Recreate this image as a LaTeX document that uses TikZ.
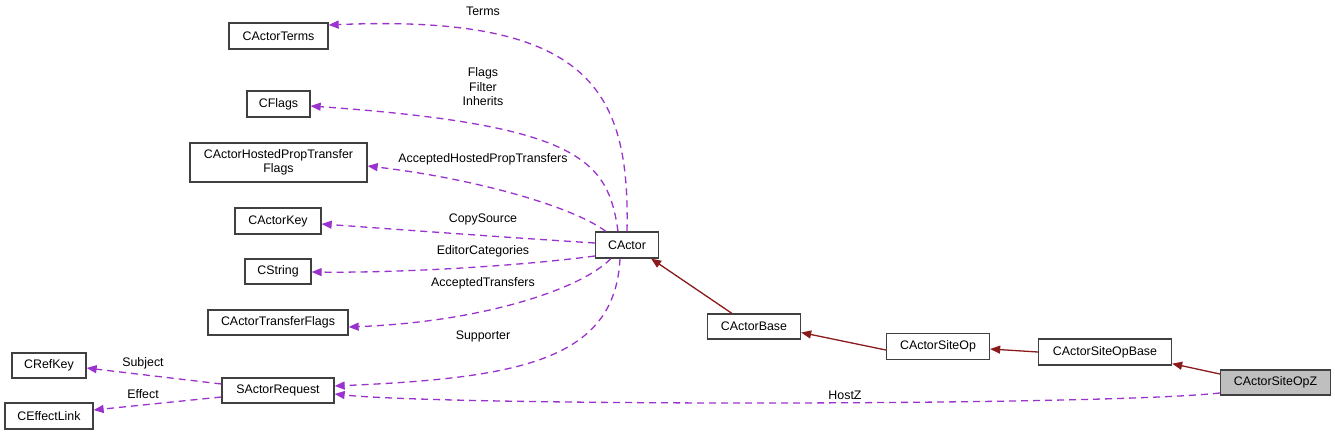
\documentclass[tikz,border=0pt]{standalone}
\usepackage{fontspec}
\setmainfont{Liberation Sans}
\usetikzlibrary{arrows.meta,calc}
\definecolor{edgepurple}{HTML}{9A32CD}
\definecolor{edgered}{HTML}{8B1A1A}
\definecolor{boxline}{HTML}{404040}
\definecolor{boxgrey}{HTML}{BFBFBF}
\begin{document}
\begin{tikzpicture}[x=1pt,y=-1pt,
  font=\fontsize{12.4}{14.5}\selectfont,
  cls/.style={draw=boxline,line width=1.3pt,fill=white,inner sep=0pt,align=center},
  rel/.style={draw=edgepurple,line width=1.3pt,dash pattern=on 7pt off 5pt,-{Triangle[length=10pt,width=8pt,fill=edgepurple]}},
  inh/.style={draw=edgered,line width=1.3pt,-{Triangle[length=10pt,width=8pt,fill=edgered]}},
  lbl/.style={inner sep=0pt,align=center}]
\useasboundingbox[fill=white] (0,0) rectangle (1335,435);

\node[cls,minimum width=99pt,minimum height=26pt] (terms) at (278.5,36) {CActorTerms};
\node[cls,minimum width=63pt,minimum height=26pt] (flags) at (278.5,104) {CFlags};
\node[cls,minimum width=177pt,minimum height=39pt] (hosted) at (278.5,162.5) {CActorHostedPropTransfer\\Flags};
\node[cls,minimum width=86pt,minimum height=26pt] (key) at (278,221) {CActorKey};
\node[cls,minimum width=66pt,minimum height=25pt] (string) at (278,271.5) {CString};
\node[cls,minimum width=140pt,minimum height=25pt] (transfer) at (278,322.5) {CActorTransferFlags};
\node[cls,minimum width=74pt,minimum height=25pt] (refkey) at (49,365.5) {CRefKey};
\node[cls,minimum width=88pt,minimum height=26pt] (effect) at (49,416) {CEffectLink};
\node[cls,minimum width=112pt,minimum height=25pt] (request) at (278,390.5) {SActorRequest};
\node[cls,minimum width=63pt,minimum height=26pt] (actor) at (627,245) {CActor};
\node[cls,minimum width=93pt,minimum height=25pt] (base) at (754,326.5) {CActorBase};
\node[cls,minimum width=103pt,minimum height=26pt] (siteop) at (938,346.5) {CActorSiteOp};
\node[cls,minimum width=133pt,minimum height=26pt] (siteopbase) at (1105,352) {CActorSiteOpBase};
\node[cls,fill=boxgrey,minimum width=110pt,minimum height=25pt] (siteopz) at (1275.5,382.5) {CActorSiteOpZ};

% purple relation edges
\draw[rel] (actor.north) .. controls (630,90) and (590,14) .. ($(terms.east)+(0,-11)$);
\draw[rel] ($(actor.north)+(-9,0)$) .. controls (608,160) and (580,125) .. ($(flags.east)+(0,2)$);
\draw[rel] ($(actor.north west)+(11,0)$) .. controls (570,205) and (470,178) .. ($(hosted.east)+(0,3.5)$);
\draw[rel] ($(actor.west)+(0,-2)$) .. controls (500,237) and (420,231) .. ($(key.east)+(0,3)$);
\draw[rel] ($(actor.west)+(0,11)$) .. controls (520,266) and (400,273) .. ($(string.east)+(0,0.5)$);
\draw[rel] ($(actor.south west)+(16,0)$) .. controls (580,290) and (480,322) .. ($(transfer.east)+(0,4.5)$);
\draw[rel] ($(actor.south)+(-7,0)$) .. controls (615,360) and (520,378) .. ($(request.east)+(0,-4.5)$);
\draw[rel] ($(siteopz.west)+(0,10.5)$) .. controls (1100,406) and (450,406) .. ($(request.east)+(0,3.5)$);
\draw[rel] ($(request.west)+(0,-6.5)$) -- ($(refkey.east)+(0,2.5)$);
\draw[rel] ($(request.west)+(0,6.5)$) -- ($(effect.east)+(0,-6)$);

% inheritance edges
\draw[inh] ($(base.north west)+(25,0)$) -- ($(actor.south east)+(-8,0)$);
\draw[inh] ($(siteop.west)+(0,3.5)$) -- ($(base.east)+(0,6)$);
\draw[inh] (siteopbase.west) -- ($(siteop.east)+(0,2.5)$);
\draw[inh] ($(siteopz.west)+(0,-8.5)$) -- ($(siteopbase.south east)+(0,-2)$);

% labels
\node[lbl] (lterms) at (483,11) {Terms};
\node[lbl] (lflags) at (483,87) {Flags\\Filter\\Inherits};
\node[lbl] (lhosted) at (483,159) {AcceptedHostedPropTransfers};
\node[lbl] (lcopy) at (483,219) {CopySource};
\node[lbl] (leditor) at (483,251) {EditorCategories};
\node[lbl] (laccepted) at (483,283) {AcceptedTransfers};
\node[lbl] (lsupporter) at (483,336) {Supporter};
\node[lbl] (lhostz) at (845,395) {HostZ};
\node[lbl] (lsubject) at (143,363) {Subject};
\node[lbl] (leffect) at (143,394) {Effect};
\end{tikzpicture}
\end{document}
